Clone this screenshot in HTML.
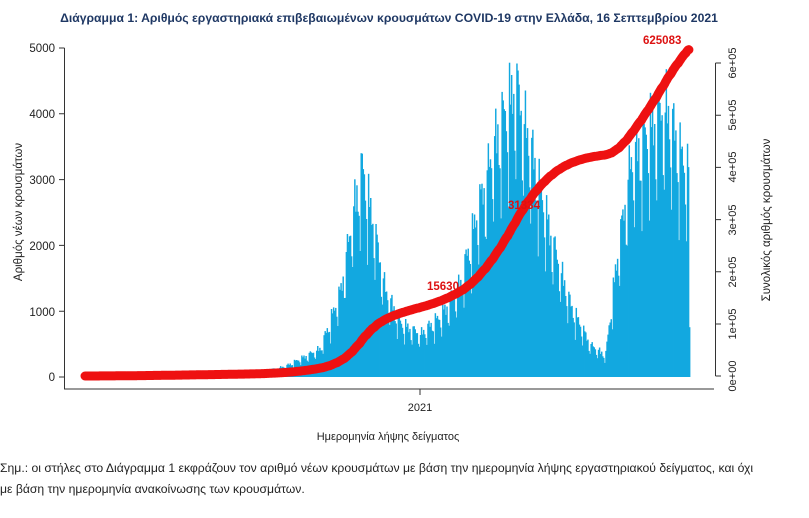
<!DOCTYPE html>
<html><head><meta charset="utf-8"><style>
body{margin:0;background:#fff;width:809px;height:513px;overflow:hidden;font-family:"Liberation Sans","DejaVu Sans",sans-serif}
</style></head><body>
<svg id="s" width="809" height="513" xmlns="http://www.w3.org/2000/svg" font-family="Liberation Sans, DejaVu Sans, sans-serif">
<text x="389" y="22" text-anchor="middle" font-size="12.2" font-weight="bold" fill="#1f3864">Διάγραμμα 1: Αριθμός εργαστηριακά επιβεβαιωμένων κρουσμάτων COVID-19 στην Ελλάδα, 16 Σεπτεμβρίου 2021</text>
<g id="bars" fill="#12a8e0"></g>
<g stroke="#333" stroke-width="1" fill="none">
<path d="M64.5,48 V389 H714"/>
<path d="M59,48H64.5 M59,113.8H64.5 M59,179.6H64.5 M59,245.4H64.5 M59,311.2H64.5 M59,377H64.5"/>
<path d="M715.5,63 V376 M715.5,63H721 M715.5,115.2H721 M715.5,167.4H721 M715.5,219.6H721 M715.5,271.8H721 M715.5,324H721 M715.5,376H721"/>
<path d="M420,389V395"/>
</g>
<g font-size="11.5" fill="#222" text-anchor="end">
<text x="55" y="52">5000</text><text x="55" y="118">4000</text><text x="55" y="184">3000</text><text x="55" y="250">2000</text><text x="55" y="316">1000</text><text x="55" y="381">0</text>
</g>
<g font-size="11" fill="#222" text-anchor="middle">
<text transform="translate(736,63) rotate(-90)">6e+05</text>
<text transform="translate(736,115) rotate(-90)">5e+05</text>
<text transform="translate(736,167) rotate(-90)">4e+05</text>
<text transform="translate(736,220) rotate(-90)">3e+05</text>
<text transform="translate(736,272) rotate(-90)">2e+05</text>
<text transform="translate(736,324) rotate(-90)">1e+05</text>
<text transform="translate(736,376) rotate(-90)">0e+00</text>
</g>
<text transform="translate(22,212) rotate(-90)" text-anchor="middle" font-size="11.5" fill="#222">Αριθμός νέων κρουσμάτων</text>
<text transform="translate(770,220) rotate(-90)" text-anchor="middle" font-size="11.5" fill="#222">Συνολικός αριθμός κρουσμάτων</text>
<text x="420" y="411" text-anchor="middle" font-size="11" fill="#222">2021</text>
<text x="388" y="440" text-anchor="middle" font-size="11" fill="#222">Ημερομηνία λήψης δείγματος</text>
<path id="cum" fill="none" stroke="#ee1111" stroke-width="9" stroke-linecap="round" stroke-linejoin="round"/>
<g font-size="11.5" font-weight="bold" fill="#dd1111">
<text x="427" y="290">15630</text><text x="508" y="209">31334</text><text x="643" y="44">625083</text>
</g>
<text x="0" y="472" font-size="12.2" fill="#222">Σημ.: οι στήλες στο Διάγραμμα 1 εκφράζουν τον αριθμό νέων κρουσμάτων με βάση την ημερομηνία λήψης εργαστηριακού δείγματος, και όχι</text>
<text x="0" y="493" font-size="12.2" fill="#222">με βάση την ημερομηνία ανακοίνωσης των κρουσμάτων.</text>
</svg>
<script>
var env=[[85,5],[150,30],[250,40],[285,150],[320,400],[340,1200],[355,2500],[362,2900],[372,2200],[385,1200],[400,750],[420,600],[440,850],[460,1300],[475,2200],[495,3300],[515,4100],[530,3200],[550,2000],[570,1000],[590,450],[605,300],[615,1500],[630,3000],[650,3500],[665,3800],[680,3100],[690,2800]];
function E(x){for(var i=0;i<env.length-1;i++){if(x<=env[i+1][0]){var a=env[i],b=env[i+1],t=(x-a[0])/(b[0]-a[0]);return a[1]+t*(b[1]-a[1]);}}return 3000;}
var N=571,x0=85,w=(690-x0)/N,vals=[],h='';
var wk=[0.7,1.15,1.15,1.08,1.05,1.0,0.85];
for(var i=0;i<N;i++){var x=x0+i*w;var v=E(x)*wk[i%7]*(0.92+0.16*Math.abs(Math.sin(i*1.7)));if(i==N-1)v=757;vals.push(v);
var y=377-v*0.0658;h+='<rect x="'+x.toFixed(2)+'" y="'+y.toFixed(1)+'" width="'+(w+0.4).toFixed(2)+'" height="'+(377-y).toFixed(1)+'"/>';}
document.getElementById('bars').innerHTML=h;
var tot=vals.reduce(function(a,b){return a+b},0),c=0,d='';
for(var i=0;i<N;i++){c+=vals[i];var cy=376-(c/tot)*625083*0.000522;d+=(i?'L':'M')+(x0+i*w).toFixed(1)+','+cy.toFixed(1);}
document.getElementById('cum').setAttribute('d',d);
</script>
</body></html>
